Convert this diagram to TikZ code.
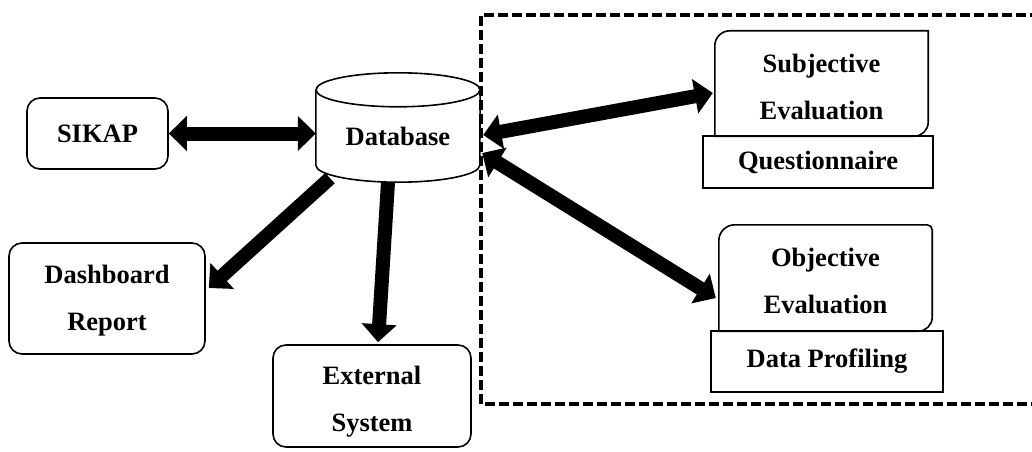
\documentclass[tikz,border=0pt]{standalone}
\usepackage{fontspec}
\setmainfont{Liberation Serif}
\usetikzlibrary{arrows.meta,calc}
\begin{document}
\begin{tikzpicture}[x=1pt,y=1pt,
  txt/.style={font=\bfseries\fontsize{26.5}{47}\selectfont, align=center, inner sep=0pt},
  rbox/.style={txt, draw, line width=1.6pt, rounded corners=13pt},
  sbox/.style={txt, draw, line width=1.6pt},
  outline/.style={line width=1.6pt},
  bigarrow/.style={line width=14pt, -{Triangle[length=18pt,width=34pt]}},
  dblarrow/.style={line width=14pt, {Triangle[length=18pt,width=34pt]}-{Triangle[length=18pt,width=34pt]}},
  frame/.style={line width=4pt, dash pattern=on 10pt off 4pt}
]
\useasboundingbox (0,0) rectangle (1032,451);

% boxes
\node[rbox, minimum width=141pt, minimum height=71pt] (sikap) at (97.5,317.5) {SIKAP};
\node[rbox, minimum width=196pt, minimum height=111pt] (dash) at (107,152.5) {};
\node[txt] (dasht) at ([yshift=-2pt]dash.center) {Dashboard\\Report};
\node[rbox, minimum width=198pt, minimum height=102pt] (ext) at (372,55) {};
\node[txt] (extt) at ([yshift=-5.5pt]ext.center) {External\\System};
\node[txt, minimum width=164pt, minimum height=92pt] (db) at (398,315) {Database};
\node[txt, minimum width=213pt, minimum height=105pt] (subj) at (821.5,367.5) {};
\node[txt] (subjt) at ([yshift=-3pt]subj.center) {Subjective\\Evaluation};
\node[sbox, minimum width=230pt, minimum height=52pt] (quest) at (818,289) {Questionnaire};
\node[txt, minimum width=213pt, minimum height=106pt] (obj) at (825.5,173) {};
\node[txt] (objt) at ([yshift=-3pt]obj.center) {Objective\\Evaluation};
\node[sbox, minimum width=232pt, minimum height=61pt] (prof) at (827,89.5) {Data Profiling};

% database cylinder
\draw[outline] (db.north west) -- ($(db.south west)+(0,17)$)
  arc[start angle=180, end angle=360, x radius=82, y radius=17] -- (db.north east);
\draw[outline] (db.north) ellipse[x radius=82, y radius=17];

% subjective outline
\draw[outline] (subj.south west) -- ([yshift=-15]subj.north west)
  arc[start angle=180, end angle=90, radius=15] -- (subj.north east)
  -- ([yshift=14]subj.south east) arc[start angle=0, end angle=-90, radius=14] -- cycle;

% objective outline
\draw[outline] (obj.south west) -- ([yshift=-16]obj.north west)
  arc[start angle=180, end angle=90, radius=16] -- ([xshift=-5]obj.north east)
  arc[start angle=90, end angle=0, radius=5]
  -- ([yshift=14]obj.south east) arc[start angle=0, end angle=-90, radius=14] -- cycle;

% dashed frame
\coordinate (ftr) at (1040,436);
\coordinate (ftl) at (481,436);
\coordinate (fbl) at (481,47);
\coordinate (fbr) at (1040,47);
\draw[frame] (ftr) -- (ftl) -- (fbl) -- (fbr);

% arrows
\draw[dblarrow] (sikap.east) -- (sikap.east -| db.west);
\draw[bigarrow] ([xshift=-68pt,yshift=4pt]db.south) -- ([xshift=3pt,yshift=10.5pt]dash.east);
\draw[bigarrow] ([xshift=-10pt]db.south) -- ([xshift=6pt,yshift=2pt]ext.north);
\draw[dblarrow] ([xshift=3pt,yshift=1pt]db.east) -- ([xshift=-2pt,yshift=-9.5pt]subj.west);
\draw[dblarrow] ([xshift=2pt,yshift=-17pt]db.east) -- ([xshift=-3pt,yshift=-20pt]obj.west);
\end{tikzpicture}
\end{document}
